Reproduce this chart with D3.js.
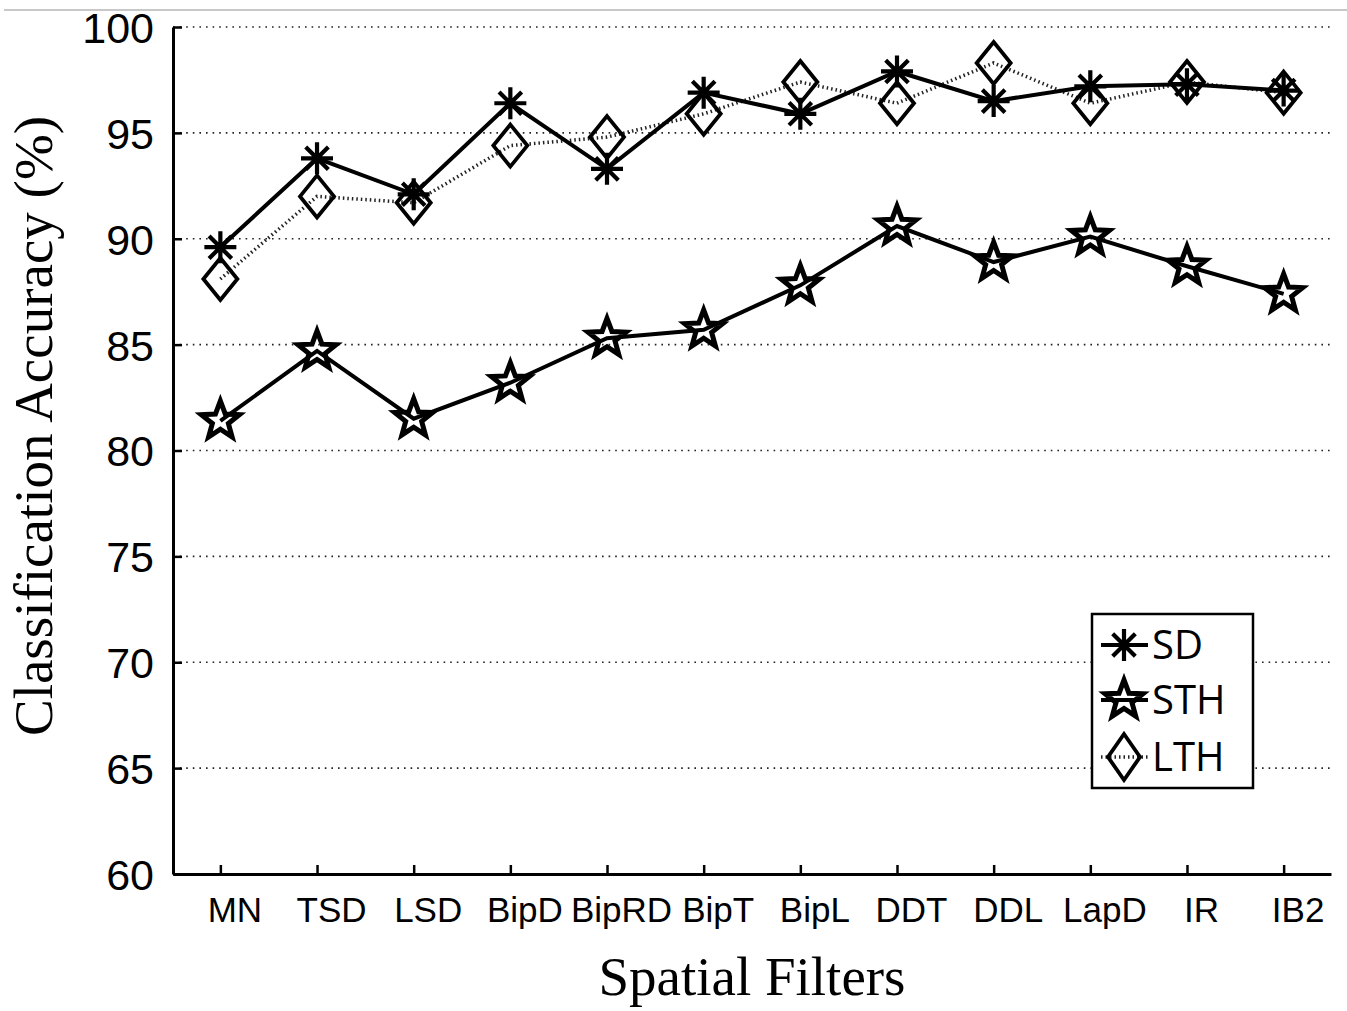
<!DOCTYPE html>
<html lang="en">
<head>
  <meta charset="UTF-8">
  <title>Classification Accuracy by Spatial Filter</title>
  <script src="https://d3js.org/d3.v7.min.js"></script>
  <style>
    body {
      margin: 0;
      background: white;
    }
    svg {
      display: block;
    }
  </style>
</head>
<body>
  <div id="chart"></div>

  <script>
    // Spatial filter categories
    const filters = ["MN", "TSD", "LSD", "BipD", "BipRD", "BipT", "BipL", "DDT", "DDL", "LapD", "IR", "IB2"];

    // Classification accuracy (%) per feature type
    const sdValues  = [89.6, 93.8, 92.1, 96.4, 93.3, 96.9, 95.9, 97.9, 96.5, 97.2, 97.3, 97.0];
    const sthValues = [81.4, 84.7, 81.5, 83.2, 85.3, 85.7, 87.8, 90.6, 88.9, 90.1, 88.7, 87.4];
    const lthValues = [88.1, 92.0, 91.7, 94.4, 94.8, 95.9, 97.4, 96.4, 98.3, 96.4, 97.4, 96.9];

    const yTicks = [60, 65, 70, 75, 80, 85, 90, 95, 100];

    const width = 1347;
    const height = 1011;
    const margin = { top: 27, right: 16, bottom: 137, left: 173 };

    const svg = d3.select("#chart")
      .append("svg")
      .attr("width", width)
      .attr("height", height);

    // thin border line across the top of the figure
    svg.append("line")
      .attr("x1", 4).attr("x2", width)
      .attr("y1", 10).attr("y2", 10)
      .attr("stroke", "#c8c8c8")
      .attr("stroke-width", 2);

    const x = d3.scalePoint()
      .domain(filters)
      .range([margin.left, width - margin.right])
      .padding(0.49);

    const y = d3.scaleLinear()
      .domain([60, 100])
      .range([height - margin.bottom, margin.top]);

    // dotted grid
    svg.append("g")
      .selectAll("line")
      .data(yTicks.filter(d => d > 60))
      .join("line")
      .attr("x1", margin.left)
      .attr("x2", width - margin.right)
      .attr("y1", d => y(d))
      .attr("y2", d => y(d))
      .attr("stroke", "#222")
      .attr("stroke-width", 1.6)
      .attr("stroke-dasharray", "1.6,5");

    // axes
    const xAxis = svg.append("g")
      .attr("transform", `translate(0,${height - margin.bottom})`)
      .call(d3.axisBottom(x).tickSizeInner(-9).tickSizeOuter(0));

    xAxis.selectAll("text")
      .attr("y", 48)
      .attr("dy", 0)
      .attr("dx", 14)
      .style("font-family", "'Liberation Sans', Arial, sans-serif")
      .style("font-size", "35px")
      .attr("fill", "#000");

    const yAxis = svg.append("g")
      .attr("transform", `translate(${margin.left},0)`)
      .call(d3.axisLeft(y).tickValues(yTicks).tickSizeInner(-9).tickSizeOuter(0).tickPadding(19));

    yAxis.selectAll("text")
      .attr("dy", "0.36em")
      .style("font-family", "'Liberation Sans', Arial, sans-serif")
      .style("font-size", "43px")
      .attr("fill", "#000");

    svg.selectAll(".domain")
      .attr("stroke", "#000")
      .attr("stroke-width", 3);
    svg.selectAll(".tick line")
      .attr("stroke", "#000")
      .attr("stroke-width", 2.5);

    // axis titles
    svg.append("text")
      .attr("x", 752)
      .attr("y", 995)
      .attr("text-anchor", "middle")
      .style("font-family", "'Liberation Serif', 'Times New Roman', serif")
      .style("font-size", "55px")
      .text("Spatial Filters");

    svg.append("text")
      .attr("transform", "translate(52,426) rotate(-90)")
      .attr("text-anchor", "middle")
      .style("font-family", "'Liberation Serif', 'Times New Roman', serif")
      .style("font-size", "55px")
      .text("Classification Accuracy (%)");

    // marker shapes
    function asteriskPath(r) {
      const a = r * Math.SQRT1_2;
      return `M${-r},0H${r}M0,${-r}V${r}M${-a},${-a}L${a},${a}M${-a},${a}L${a},${-a}`;
    }

    function starPath(R) {
      const rIn = R * 0.42;
      const pts = d3.range(10).map(i => {
        const ang = -Math.PI / 2 + i * Math.PI / 5;
        const rr = i % 2 === 0 ? R : rIn;
        return [rr * Math.cos(ang), rr * Math.sin(ang)];
      });
      return "M" + pts.map(p => p.join(",")).join("L") + "Z";
    }

    function diamondPath(w, h) {
      return `M0,${-h}L${w},0L0,${h}L${-w},0Z`;
    }

    const series = [
      { name: "SD",  values: sdValues,  marker: asteriskPath(16), markerWidth: 4.2, dash: null,    lineColor: "#000", lineWidth: 4 },
      { name: "STH", values: sthValues, marker: starPath(20),     markerWidth: 5,   dash: null,    lineColor: "#000", lineWidth: 4 },
      { name: "LTH", values: lthValues, marker: diamondPath(17, 21), markerWidth: 3.8, dash: "1.5,3", lineColor: "#222", lineWidth: 3.5 }
    ];

    const line = d3.line()
      .x((d, i) => x(filters[i]))
      .y(d => y(d));

    // draw dotted LTH first, then solid series on top
    const drawOrder = [series[2], series[1], series[0]];

    drawOrder.forEach(s => {
      svg.append("path")
        .datum(s.values)
        .attr("fill", "none")
        .attr("stroke", s.lineColor)
        .attr("stroke-width", s.lineWidth)
        .attr("stroke-dasharray", s.dash)
        .attr("d", line);

      svg.append("g")
        .selectAll("path")
        .data(s.values)
        .join("path")
        .attr("transform", (d, i) => `translate(${x(filters[i])},${y(d)})`)
        .attr("d", s.marker)
        .attr("fill", "none")
        .attr("stroke", "#000")
        .attr("stroke-width", s.markerWidth)
        .attr("stroke-linejoin", "miter");
    });

    // legend
    const legend = svg.append("g")
      .attr("transform", "translate(1092,614)");

    legend.append("rect")
      .attr("width", 161)
      .attr("height", 174)
      .attr("fill", "white")
      .attr("stroke", "#000")
      .attr("stroke-width", 2.5);

    const legendRows = [31, 86, 143];

    series.forEach((s, i) => {
      const row = legend.append("g")
        .attr("transform", `translate(0,${legendRows[i]})`);

      row.append("line")
        .attr("x1", 9).attr("x2", 56)
        .attr("stroke", s.lineColor)
        .attr("stroke-width", s.lineWidth)
        .attr("stroke-dasharray", s.dash);

      row.append("path")
        .attr("transform", "translate(32,0)")
        .attr("d", s.name === "LTH" ? diamondPath(16, 23) : s.marker)
        .attr("fill", "none")
        .attr("stroke", "#000")
        .attr("stroke-width", s.markerWidth);

      row.append("text")
        .attr("x", 60)
        .attr("dy", "0.36em")
        .style("font-family", "'Open Sans', 'Noto Sans', sans-serif")
        .style("font-size", "40px")
        .text(s.name);
    });
  </script>
</body>
</html>
